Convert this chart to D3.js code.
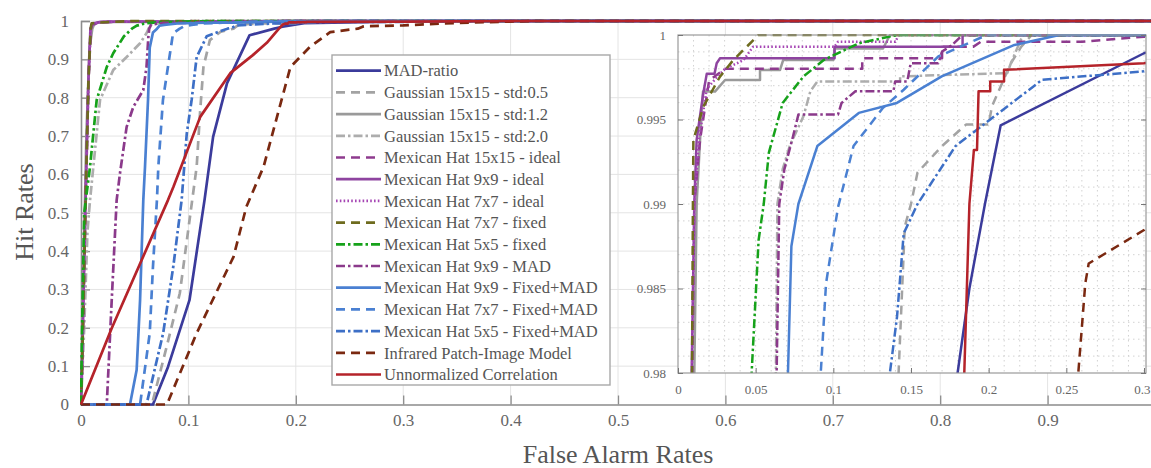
<!DOCTYPE html>
<html>
<head>
<meta charset="utf-8">
<script src="https://cdn.jsdelivr.net/npm/d3@7"></script>
<style>
  body { margin: 0; background: #fff; }
  svg { display: block; }
  text { font-family: "Liberation Serif", "DejaVu Serif", serif; }
</style>
</head>
<body>
<svg id="roc" width="1151" height="468"></svg>
<script>
// each curve: [false alarm rate, hit rate]
var madRatio = [[0,0],[0.067,0],[0.081,0.098],[0.101,0.272],[0.115,0.533],[0.123,0.698],[0.136,0.838],[0.157,0.963],[0.18,0.98],[0.1876,0.985],[0.1976,0.99],[0.2077,0.99465],[0.3,0.99892],[0.33,1],[1,1]];
var gauss05 = [[0,0],[0.066,0],[0.0798,0.151],[0.092,0.29],[0.1015,0.49],[0.1077,0.62],[0.111,0.768],[0.114,0.88],[0.12,0.95],[0.13,0.972],[0.142,0.98],[0.144,0.9843],[0.146,0.98866],[0.15,0.99],[0.1542,0.99186],[0.17,0.99343],[0.1854,0.9947],[0.2,0.9947],[0.2021,0.99578],[0.2143,0.99833],[0.221,0.99931],[0.2277,1],[1,1]];
var gauss12 = [[0,0],[0.002,0.3],[0.005,0.7],[0.008,0.93],[0.0105,0.98],[0.012,0.99],[0.0142,0.99379],[0.0161,0.99665],[0.0238,0.99665],[0.0303,0.99734],[0.0528,0.99734],[0.0528,0.99793],[0.0657,0.99793],[0.0677,0.99852],[0.1,0.99852],[0.1008,0.9992],[0.132,0.9992],[0.1365,1],[1,1]];
var gauss20 = [[0,0],[0.003,0.2],[0.006,0.45],[0.0084,0.533],[0.0177,0.794],[0.03,0.872],[0.0425,0.906],[0.055,0.942],[0.061,0.968],[0.063,0.98],[0.064,0.99],[0.0674,0.99206],[0.0719,0.99343],[0.0808,0.9952],[0.0852,0.99667],[0.0897,0.99725],[0.143,0.99725],[0.143,0.99755],[0.212,0.99775],[0.2143,0.99833],[0.222,1],[1,1]];
var mh15Ideal = [[0,0],[0.001,0.1],[0.004,0.5],[0.007,0.85],[0.0092,0.98],[0.0105,0.99],[0.0142,0.9938],[0.02,0.9973],[0.0303,0.998],[0.1186,0.998],[0.1186,0.99863],[0.17,0.99863],[0.17,0.9993],[0.19,0.9993],[0.195,0.9996],[0.26,0.9996],[0.3,0.9999],[0.35,1],[1,1]];
var mh9Ideal = [[0,0],[0.001,0.1],[0.004,0.5],[0.007,0.85],[0.0088,0.98],[0.0105,0.99],[0.012,0.99379],[0.0161,0.99645],[0.0185,0.9977],[0.0235,0.9977],[0.0249,0.99833],[0.027,0.99862],[0.1008,0.99862],[0.1008,0.9993],[0.1832,0.9993],[0.1832,1],[1,1]];
var mh7Ideal = [[0,0],[0.001,0.1],[0.004,0.5],[0.007,0.85],[0.009,0.98],[0.0105,0.99],[0.0135,0.9938],[0.0185,0.9968],[0.025,0.9975],[0.0303,0.998],[0.042,0.9985],[0.0483,0.9993],[0.1008,0.9993],[0.103,0.9996],[0.14,0.9996],[0.142,1],[1,1]];
var mh7Fixed = [[0,0],[0.001,0.1],[0.004,0.5],[0.007,0.85],[0.009,0.98],[0.0096,0.99],[0.0099,0.99379],[0.0163,0.99576],[0.027,0.99753],[0.0356,0.99852],[0.0519,1],[1,1]];
var mh5Fixed = [[0,0],[0.001,0.2],[0.003,0.5],[0.0084,0.62],[0.0146,0.794],[0.024,0.88],[0.03,0.916],[0.04,0.96],[0.0474,0.98],[0.0519,0.98787],[0.0552,0.99],[0.0585,0.99304],[0.0674,0.99598],[0.0808,0.99755],[0.094,0.99853],[0.1164,0.99951],[0.141,1],[1,1]];
var mh9Mad = [[0,0],[0.024,0],[0.0286,0.272],[0.0332,0.533],[0.0363,0.603],[0.0425,0.724],[0.0487,0.776],[0.058,0.82],[0.061,0.88],[0.0627,0.958],[0.0635,0.98],[0.0652,0.99],[0.0685,0.99206],[0.0741,0.99402],[0.0775,0.99529],[0.103,0.99529],[0.1053,0.99598],[0.1142,0.99667],[0.1387,0.99667],[0.1398,0.99725],[0.1476,0.99725],[0.1498,0.99833],[0.1676,0.99833],[0.17,0.99902],[0.1765,0.99941],[0.1832,1],[1,1]];
var mh9FixMad = [[0,0],[0.0456,0],[0.0518,0.09],[0.055,0.272],[0.058,0.533],[0.0596,0.62],[0.0624,0.794],[0.064,0.93],[0.067,0.97],[0.0708,0.98],[0.073,0.9875],[0.0775,0.99],[0.0897,0.99343],[0.1164,0.99539],[0.1409,0.99598],[0.1698,0.99755],[0.2166,0.99941],[0.2455,1],[1,1]];
var mh7FixMad = [[0,0],[0.055,0],[0.064,0.186],[0.067,0.359],[0.0707,0.533],[0.072,0.62],[0.0763,0.794],[0.0857,0.968],[0.0919,0.98],[0.0953,0.9853],[0.103,0.9898],[0.113,0.99343],[0.132,0.99569],[0.1453,0.99676],[0.1676,0.99873],[0.1988,1],[1,1]];
var mh5FixMad = [[0,0],[0.061,0],[0.0765,0.186],[0.0859,0.359],[0.0937,0.533],[0.0985,0.707],[0.103,0.794],[0.1077,0.906],[0.117,0.96],[0.13,0.974],[0.1364,0.98],[0.141,0.98332],[0.1453,0.98826],[0.1542,0.99],[0.1787,0.99343],[0.201,0.995],[0.2344,0.99735],[0.3,0.99785],[0.36,1],[1,1]];
var ipi = [[0,0],[0.08,0],[0.1077,0.186],[0.142,0.385],[0.154,0.516],[0.17,0.62],[0.185,0.776],[0.195,0.88],[0.213,0.932],[0.232,0.971],[0.2577,0.98],[0.2622,0.9853],[0.2644,0.98648],[0.3,0.98846],[0.35,0.995],[0.42,1],[1,1]];
var unnormCorr = [[0,0],[0.0286,0.199],[0.081,0.533],[0.086,0.567],[0.111,0.75],[0.139,0.864],[0.16,0.911],[0.173,0.943],[0.1843,0.98],[0.1876,0.99],[0.1905,0.9932],[0.1925,0.9932],[0.1935,0.99667],[0.201,0.99667],[0.201,0.99725],[0.2099,0.99725],[0.2099,0.99794],[0.3,0.99833],[0.4,1],[1,1]];

var names = ['MAD-ratio', 'Gaussian 15x15 - std:0.5', 'Gaussian 15x15 - std:1.2', 'Gaussian 15x15 - std:2.0',
  'Mexican Hat 15x15 - ideal', 'Mexican Hat 9x9 - ideal', 'Mexican Hat 7x7 - ideal', 'Mexican Hat 7x7 - fixed',
  'Mexican Hat 5x5 - fixed', 'Mexican Hat 9x9 - MAD', 'Mexican Hat 9x9 - Fixed+MAD', 'Mexican Hat 7x7 - Fixed+MAD',
  'Mexican Hat 5x5 - Fixed+MAD', 'Infrared Patch-Image Model', 'Unnormalized Correlation'];
var curves = [madRatio, gauss05, gauss12, gauss20, mh15Ideal, mh9Ideal, mh7Ideal, mh7Fixed,
  mh5Fixed, mh9Mad, mh9FixMad, mh7FixMad, mh5FixMad, ipi, unnormCorr];

var mainTicksX = [0, 0.1, 0.2, 0.3, 0.4, 0.5, 0.6, 0.7, 0.8, 0.9];
var mainTicksY = [0, 0.1, 0.2, 0.3, 0.4, 0.5, 0.6, 0.7, 0.8, 0.9, 1];
var insetTicksX = [0, 0.05, 0.1, 0.15, 0.2, 0.25, 0.3];
var insetTicksY = [0.98, 0.985, 0.99, 0.995, 1];

// styles
var colors = ['#3b3b9b', '#a3a3a3', '#9a9a9a', '#adadad', '#8e3b8e', '#8e44a0', '#a646b4', '#6e6b1e',
  '#16a21a', '#8b3a8b', '#4a80d2', '#4a80d2', '#3d6fc6', '#7a2810', '#b5232a'];
var dash = '9,6', dashdot = '9,3,2.5,3', dots = '1.6,2.2';
var dashes = [null, dash, null, dashdot, dash, null, dots, dash, dashdot, dashdot, null, dash, dashdot, dash, null];

var svg = d3.select('#roc');
var serif = '"Liberation Serif", serif';

var x = d3.scaleLinear().domain([0, 1]).range([81, 1155]),
    y = d3.scaleLinear().domain([0, 1]).range([404.5, 21]);

var fmt = d3.format('~g');

// main grid
var g = svg.append('g');
g.selectAll('.gx').data(mainTicksX.slice(1).concat([1])).enter().append('line')
  .attr('x1', d => x(d)).attr('x2', d => x(d)).attr('y1', y(1)).attr('y2', y(0))
  .attr('stroke', '#e4e4e4').attr('stroke-width', 1);
g.selectAll('.gy').data(mainTicksY.slice(1)).enter().append('line')
  .attr('x1', x(0)).attr('x2', x(1)).attr('y1', d => y(d)).attr('y2', d => y(d))
  .attr('stroke', '#e4e4e4').attr('stroke-width', 1);

// main axes
var ax = g.append('g').attr('transform', `translate(0, ${y(0)})`)
  .call(d3.axisBottom(x).tickValues(mainTicksX).tickFormat(fmt).tickSize(-9).tickPadding(9));
var ay = g.append('g').attr('transform', `translate(${x(0)}, 0)`)
  .call(d3.axisLeft(y).tickValues(mainTicksY).tickFormat(fmt).tickSize(-9).tickPadding(12));
[ax, ay].forEach(a => {
  a.select('.domain').attr('stroke', '#8c8c8c').attr('stroke-width', 1.6);
  a.selectAll('.tick line').attr('stroke', '#8c8c8c').attr('stroke-width', 1.3);
  a.selectAll('.tick text').attr('fill', '#666').attr('font-size', 17).attr('font-family', serif);
});

svg.append('clipPath').attr('id', 'mainClip').append('rect')
  .attr('x', x(0) - 1).attr('y', y(1) - 3).attr('width', x(1) - x(0) + 2).attr('height', y(0) - y(1) + 5);

var line = d3.line().x(d => x(d[0])).y(d => y(d[1]));

var lines = svg.append('g').attr('clip-path', 'url(#mainClip)');
curves.forEach((c, i) => {
  lines.append('path')
    .datum(c)
    .attr('fill', 'none')
    .attr('stroke', colors[i])
    .attr('stroke-width', 2.7)
    .attr('stroke-dasharray', dashes[i])
    .attr('stroke-linejoin', 'round')
    .attr('d', line);
});

// axis titles
svg.append('text')
  .attr('transform', 'translate(33, 212) rotate(-90)')
  .attr('text-anchor', 'middle')
  .attr('fill', '#555')
  .attr('font-size', 26)
  .text('Hit Rates');
svg.append('text')
  .attr('x', 618).attr('y', 463)
  .attr('text-anchor', 'middle')
  .attr('fill', '#555')
  .attr('font-size', 26)
  .text('False Alarm Rates');

// legend
var leg = svg.append('g');
leg.append('rect').attr('x', 332).attr('y', 55).attr('width', 278).attr('height', 330)
  .attr('fill', '#fff').attr('stroke', '#a8a8a8').attr('stroke-width', 1.4);
names.forEach((n, i) => {
  var ly = 70.7 + i * 21.7;
  leg.append('line').attr('x1', 336).attr('x2', 381).attr('y1', ly).attr('y2', ly)
    .attr('stroke', colors[i]).attr('stroke-width', 2.7).attr('stroke-dasharray', dashes[i]);
  leg.append('text').attr('x', 384).attr('y', ly).attr('dy', '0.35em')
    .attr('fill', '#555').attr('font-size', 16.5).text(n);
});

// inset zoom
var xi = d3.scaleLinear().domain([0, 0.3]).range([678, 1144]),
    yi = d3.scaleLinear().domain([0.98, 1]).range([373, 35]);

var ins = svg.append('g');
ins.append('rect').attr('x', 678).attr('y', 35).attr('width', 468).attr('height', 338).attr('fill', '#fff');

ins.selectAll('.mx').data(d3.range(1, 31).map(i => i / 100)).enter().append('line')
  .attr('x1', d => xi(d)).attr('x2', d => xi(d)).attr('y1', yi(1)).attr('y2', yi(0.98))
  .attr('stroke', '#d2d2d2').attr('stroke-width', 1).attr('stroke-dasharray', '1.5,3.5');
ins.selectAll('.my').data(d3.range(981, 1000).map(i => i / 1000)).enter().append('line')
  .attr('x1', xi(0)).attr('x2', 1146).attr('y1', d => yi(d)).attr('y2', d => yi(d))
  .attr('stroke', '#d2d2d2').attr('stroke-width', 1).attr('stroke-dasharray', '1.5,3.5');

svg.append('clipPath').attr('id', 'insetClip').append('rect')
  .attr('x', 678).attr('y', 34).attr('width', 468).attr('height', 339);

var iline = d3.line().x(d => xi(d[0])).y(d => yi(d[1]));
var ilines = ins.append('g').attr('clip-path', 'url(#insetClip)');
curves.forEach((c, i) => {
  ilines.append('path')
    .datum(c)
    .attr('fill', 'none')
    .attr('stroke', colors[i])
    .attr('stroke-width', 2.5)
    .attr('stroke-dasharray', dashes[i])
    .attr('stroke-linejoin', 'round')
    .attr('d', iline);
});

ins.append('rect').attr('x', 678).attr('y', 35).attr('width', 468).attr('height', 338)
  .attr('fill', 'none').attr('stroke', '#9a9a9a').attr('stroke-width', 1.2);

var ixa = ins.append('g').attr('transform', `translate(0, ${yi(0.98)})`)
  .call(d3.axisBottom(xi).tickValues(insetTicksX).tickFormat(fmt).tickSize(-5).tickPadding(12));
var iya = ins.append('g').attr('transform', `translate(${xi(0)}, 0)`)
  .call(d3.axisLeft(yi).tickValues(insetTicksY).tickFormat(fmt).tickSize(-5).tickPadding(12));
var iyr = ins.append('g').attr('transform', 'translate(1146, 0)')
  .call(d3.axisRight(yi).tickValues(insetTicksY).tickFormat('').tickSize(-5));
[ixa, iya, iyr].forEach(a => {
  a.select('.domain').remove();
  a.selectAll('.tick line').attr('stroke', '#777');
  a.selectAll('.tick text').attr('fill', '#666').attr('font-size', 13).attr('font-family', serif);
});
// last inset label sits at the picture edge
ixa.selectAll('.tick text').filter(d => d === 0.3).attr('text-anchor', 'end').attr('dx', 6);
</script>
</body>
</html>
